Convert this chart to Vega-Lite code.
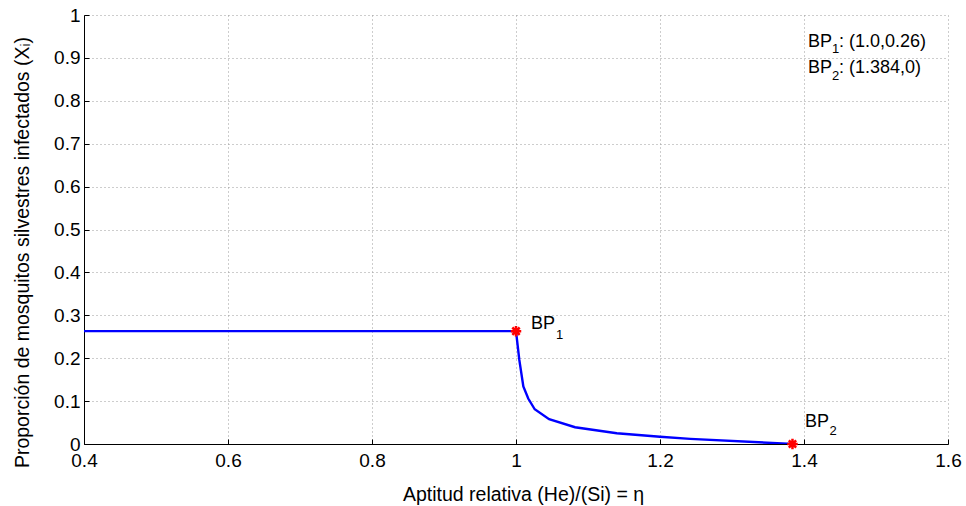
{
  "$schema": "https://vega.github.io/schema/vega-lite/v6.json",
  "width": 864,
  "height": 429,
  "autosize": {"type": "none"},
  "padding": {"left": 84, "top": 15, "right": 18, "bottom": 62},
  "background": "white",
  "config": {
    "view": {"stroke": null},
    "font": "Liberation Sans",
    "axis": {
      "labelFont": "Liberation Sans",
      "titleFont": "Liberation Sans",
      "labelFontSize": 19,
      "titleFontSize": 19.5,
      "titleFontWeight": "normal",
      "labelColor": "black",
      "titleColor": "black",
      "domainColor": "black",
      "tickColor": "black",
      "gridColor": "#9a9a9a",
      "gridDash": [1, 3],
      "gridWidth": 1
    },
    "text": {"font": "Liberation Sans", "color": "black", "baseline": "alphabetic", "align": "left"}
  },
  "datasets": {
    "curve": [
      {"eta": 0.4, "x": 0.263},
      {"eta": 1.0, "x": 0.263},
      {"eta": 1.0046, "x": 0.196},
      {"eta": 1.0102, "x": 0.134},
      {"eta": 1.017, "x": 0.106},
      {"eta": 1.026, "x": 0.081},
      {"eta": 1.046, "x": 0.058},
      {"eta": 1.082, "x": 0.039},
      {"eta": 1.14, "x": 0.025},
      {"eta": 1.2, "x": 0.017},
      {"eta": 1.242, "x": 0.012},
      {"eta": 1.384, "x": 0.0}
    ],
    "bp": [
      {"eta": 1.0, "x": 0.263},
      {"eta": 1.384, "x": 0.0}
    ],
    "bp1": [{"eta": 1.0, "x": 0.263, "main": "BP", "sub": "1"}],
    "bp2": [{"eta": 1.384, "x": 0.0, "main": "BP", "sub": "2"}],
    "legend": [
      {"eta": 1.4056, "x": 0.926, "main": "BP", "sub": "1", "rest": ": (1.0,0.26)"},
      {"eta": 1.4056, "x": 0.864, "main": "BP", "sub": "2", "rest": ": (1.384,0)"}
    ]
  },
  "layer": [
    {
      "data": {"name": "curve"},
      "mark": {"type": "line", "color": "#0000ff", "strokeWidth": 2.4, "clip": true},
      "encoding": {
        "x": {
          "field": "eta", "type": "quantitative",
          "scale": {"domain": [0.4, 1.6], "nice": false, "zero": false},
          "axis": {
            "title": "Aptitud relativa (He)/(Si) = η",
            "values": [0.4, 0.6, 0.8, 1.0, 1.2, 1.4, 1.6],
            "labelExpr": "datum.value == 1 ? '1' : format(datum.value, '.1f')",
            "grid": true,
            "tickSize": -5,
            "labelBaseline": "alphabetic",
            "labelPadding": 27,
            "titleX": 439,
            "titleY": 56,
            "titleAlign": "center",
            "titleBaseline": "alphabetic",
            "labelFlush": false,
            "labelOverlap": false
          }
        },
        "y": {
          "field": "x", "type": "quantitative",
          "scale": {"domain": [0, 1], "nice": false},
          "axis": {
            "title": "Proporción de mosquitos silvestres infectados (Xᵢ)",
            "values": [0, 0.1, 0.2, 0.3, 0.4, 0.5, 0.6, 0.7, 0.8, 0.9, 1],
            "labelExpr": "datum.value == 0 ? '0' : datum.value == 1 ? '1' : format(datum.value, '.1f')",
            "grid": true,
            "tickSize": -5,
            "labelPadding": 9,
            "titleX": -56,
            "titleY": 237,
            "titleAngle": -90,
            "titleAlign": "center",
            "titleBaseline": "alphabetic",
            "labelFlush": false,
            "labelOverlap": false
          }
        }
      }
    },
    {
      "data": {"name": "bp"},
      "mark": {
        "type": "point",
        "shape": "M-1,0L1,0M0,-1L0,1M-0.7,-0.7L0.7,0.7M-0.7,0.7L0.7,-0.7",
        "stroke": "#ff0000",
        "strokeWidth": 2.5,
        "filled": false,
        "size": 110,
        "opacity": 1
      },
      "encoding": {
        "x": {"field": "eta", "type": "quantitative"},
        "y": {"field": "x", "type": "quantitative"}
      }
    },
    {
      "data": {"name": "bp1"},
      "mark": {"type": "text", "dx": 15, "dy": -2, "fontSize": 18},
      "encoding": {
        "x": {"field": "eta", "type": "quantitative"},
        "y": {"field": "x", "type": "quantitative"},
        "text": {"field": "main"}
      }
    },
    {
      "data": {"name": "bp1"},
      "mark": {"type": "text", "dx": 40, "dy": 8, "fontSize": 13},
      "encoding": {
        "x": {"field": "eta", "type": "quantitative"},
        "y": {"field": "x", "type": "quantitative"},
        "text": {"field": "sub"}
      }
    },
    {
      "data": {"name": "bp2"},
      "mark": {"type": "text", "dx": 12.5, "dy": -17, "fontSize": 18},
      "encoding": {
        "x": {"field": "eta", "type": "quantitative"},
        "y": {"field": "x", "type": "quantitative"},
        "text": {"field": "main"}
      }
    },
    {
      "data": {"name": "bp2"},
      "mark": {"type": "text", "dx": 37, "dy": -9, "fontSize": 13},
      "encoding": {
        "x": {"field": "eta", "type": "quantitative"},
        "y": {"field": "x", "type": "quantitative"},
        "text": {"field": "sub"}
      }
    },
    {
      "data": {"name": "legend"},
      "mark": {"type": "text", "fontSize": 18},
      "encoding": {
        "x": {"field": "eta", "type": "quantitative"},
        "y": {"field": "x", "type": "quantitative"},
        "text": {"field": "main"}
      }
    },
    {
      "data": {"name": "legend"},
      "mark": {"type": "text", "dx": 24, "dy": 6.6, "fontSize": 13},
      "encoding": {
        "x": {"field": "eta", "type": "quantitative"},
        "y": {"field": "x", "type": "quantitative"},
        "text": {"field": "sub"}
      }
    },
    {
      "data": {"name": "legend"},
      "mark": {"type": "text", "dx": 31, "fontSize": 18},
      "encoding": {
        "x": {"field": "eta", "type": "quantitative"},
        "y": {"field": "x", "type": "quantitative"},
        "text": {"field": "rest"}
      }
    }
  ]
}
